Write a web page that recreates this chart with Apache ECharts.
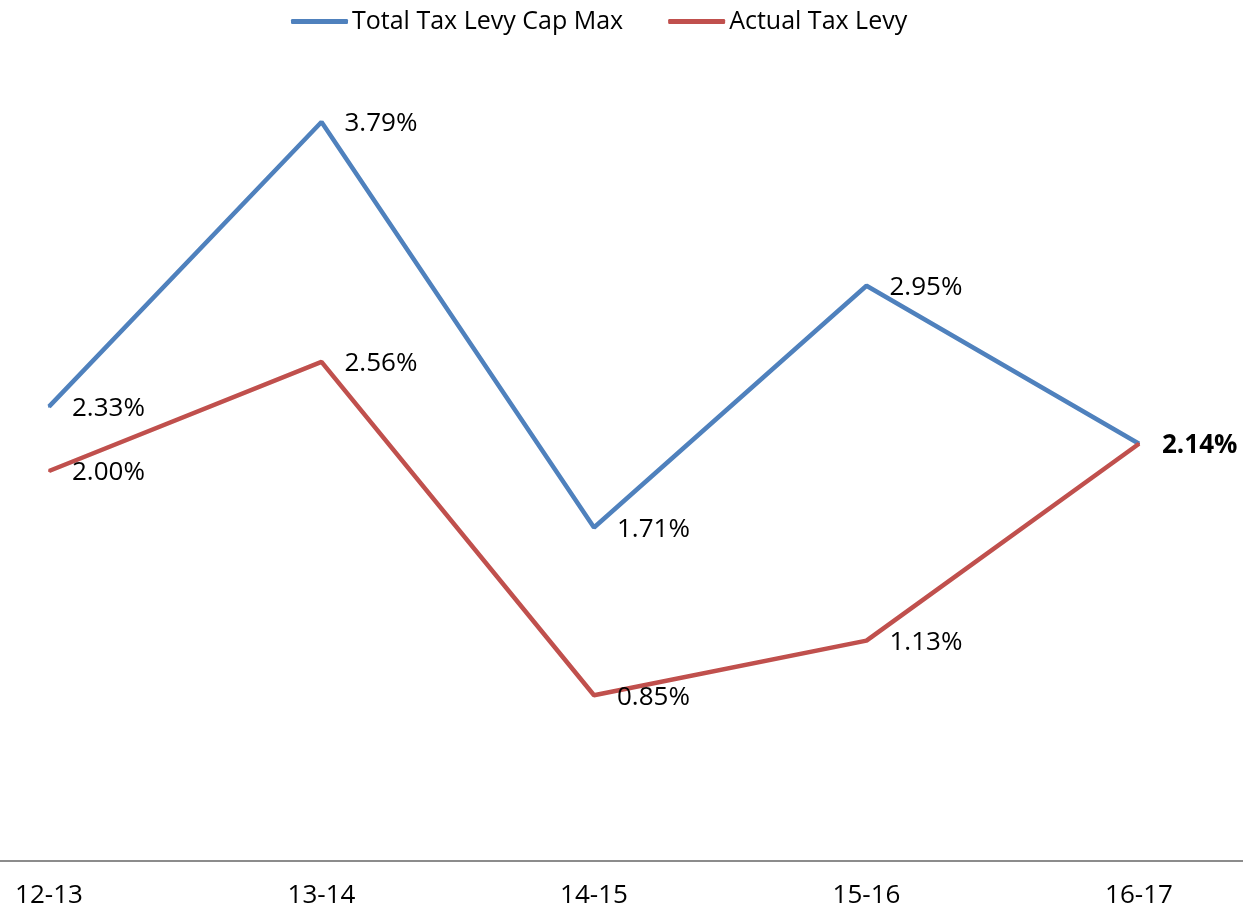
<!DOCTYPE html>
<html>
<head>
<meta charset="utf-8">
<script src="https://cdn.jsdelivr.net/npm/echarts@6/dist/echarts.min.js"></script>
<style>html,body{margin:0;padding:0;background:#fff}#c{width:1243px;height:910px}</style>
</head>
<body>
<div id="c"></div>
<script>
const categories = ['12-13', '13-14', '14-15', '15-16', '16-17'];
const capMax = [2.33, 3.79, 1.71, 2.95, 2.14];
const actualLevy = [2.00, 2.56, 0.85, 1.13, 2.14];
const seriesNames = ['Total Tax Levy Cap Max', 'Actual Tax Levy'];

const FONT = '"Open Sans", "Noto Sans", sans-serif';
const BLUE = '#4F81BD', RED = '#C0504D';
const chart = echarts.init(document.getElementById('c'));

function labelCfg() {
  return {
    show: true, position: 'right', distance: 22, offset: [0, 2],
    fontFamily: FONT, fontSize: 26, color: '#000',
    formatter: p => Number(p.value).toFixed(2) + '%'
  };
}

chart.setOption({
  animation: false,
  legend: {
    top: 9,
    left: 291,
    padding: 0,
    itemWidth: 57,
    itemHeight: 5,
    itemGap: 45,
    icon: 'roundRect',
    textStyle: { fontFamily: FONT, fontSize: 25, color: '#000', padding: [0, 0, 0, -1] },
    data: seriesNames
  },
  grid: { left: 49, right: 104, top: 81, bottom: 49 },
  graphic: [{
    type: 'rect',
    left: 0, bottom: 48,
    shape: { width: 1243, height: 2 },
    style: { fill: '#8c8c8c' },
    silent: true
  }],
  xAxis: {
    type: 'category',
    data: categories,
    boundaryGap: false,
    axisLine: { show: false },
    axisTick: { show: false },
    axisLabel: { fontFamily: FONT, fontSize: 26, color: '#000', margin: 22 }
  },
  yAxis: {
    type: 'value',
    min: 0,
    max: 4,
    show: false,
    splitLine: { show: false }
  },
  series: [
    {
      name: seriesNames[0],
      type: 'line',
      data: capMax.map((v, i) => i === 4 ? { value: v, label: { show: false } } : v),
      symbol: 'circle',
      symbolSize: 2,
      lineStyle: { color: BLUE, width: 4.5 },
      itemStyle: { color: BLUE },
      label: labelCfg(),
      z: 3
    },
    {
      name: seriesNames[1],
      type: 'line',
      data: actualLevy.map((v, i) => i === 4 ? { value: v, label: { fontWeight: 'bold' } } : v),
      symbol: 'circle',
      symbolSize: 2,
      lineStyle: { color: RED, width: 4.5 },
      itemStyle: { color: RED },
      label: labelCfg(),
      z: 4
    }
  ]
});
</script>
</body>
</html>
